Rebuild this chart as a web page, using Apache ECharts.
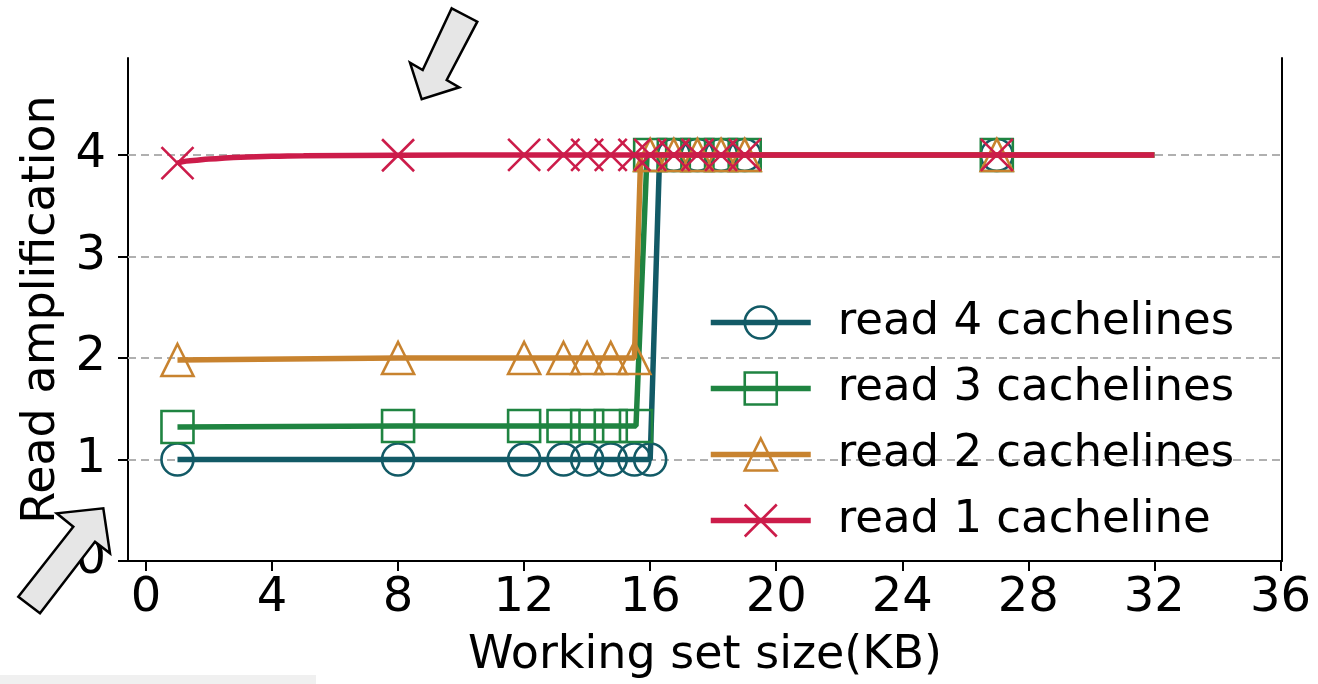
<!DOCTYPE html>
<html>
<head>
<meta charset="utf-8">
<script src="https://cdn.jsdelivr.net/npm/echarts@6/dist/echarts.min.js"></script>
<style>
html,body{margin:0;padding:0;background:#fff;}
#c{width:1318px;height:684px;}
</style>
</head>
<body>
<div id="c"></div>
<script>
// ---- data ----
const xTicks = [0, 4, 8, 12, 16, 20, 24, 28, 32, 36];
const yTicks = [0, 1, 2, 3, 4];
const gridLines = [1, 2, 3, 4];

const seriesNames = ['read 4 cachelines', 'read 3 cachelines', 'read 2 cachelines', 'read 1 cacheline'];

// read 4 cachelines
const r4x = [1, 8, 12, 13.25, 14, 14.75, 15.5, 16, 16.3, 16.75, 17.5, 18.25, 19, 27, 32];
const r4y = [1, 1, 1, 1, 1, 1, 1, 1, 4, 4, 4, 4, 4, 4, 4];
const r4m = [1, 1, 1, 1, 1, 1, 1, 1, 0, 1, 1, 1, 1, 1, 0];
// read 3 cachelines
const r3x = [1, 8, 12, 13.25, 14, 14.75, 15.55, 15.9, 16, 16.75, 17.5, 18.25, 19, 27, 32];
const r3y = [1.32, 1.33, 1.33, 1.33, 1.33, 1.33, 1.33, 4, 4, 4, 4, 4, 4, 4, 4];
const r3m = [1, 1, 1, 1, 1, 1, 1, 0, 1, 1, 1, 1, 1, 1, 0];
// read 2 cachelines
const r2x = [1, 8, 12, 13.25, 14, 14.75, 15.5, 15.7, 16, 16.75, 17.5, 18.25, 19, 27, 32];
const r2y = [1.98, 2, 2, 2, 2, 2, 2, 4, 4, 4, 4, 4, 4, 4, 4];
const r2m = [1, 1, 1, 1, 1, 1, 1, 0, 1, 1, 1, 1, 1, 1, 0];
// read 1 cacheline
const r1x = [1, 1.5, 2, 3, 4, 5, 8, 12, 13.25, 14, 14.75, 15.5, 16, 16.75, 17.5, 18.25, 19, 27, 32];
const r1y = [3.92, 3.945, 3.96, 3.978, 3.987, 3.992, 3.997, 4, 4, 4, 4, 4, 4, 4, 4, 4, 4, 4, 4];
const r1m = [1, 0, 0, 0, 0, 0, 1, 1, 1, 1, 1, 1, 1, 1, 1, 1, 1, 1, 0];

// ---- style ----
const FONT = 'DejaVu Sans';
const colors = ['#125a66', '#1f8441', '#c8832f', '#cc1c4a'];
const symbols = ['circle', 'rect', 'triangle', 'path://M0,0L10,10M10,0L0,10'];

function build(xs, ys, ms) {
  return xs.map((x, i) => ms[i] ? [x, ys[i]] : { value: [x, ys[i]], symbol: 'none' });
}
const allData = [[r4x, r4y, r4m], [r3x, r3y, r3m], [r2x, r2y, r2m], [r1x, r1y, r1m]];

const series = allData.map((d, k) => ({
  name: seriesNames[k],
  type: 'line',
  data: build(d[0], d[1], d[2]),
  symbol: symbols[k],
  symbolSize: 32,
  smooth: k === 3 ? 0.4 : false,
  smoothMonotone: 'x',
  showAllSymbol: true,
  animation: false,
  lineStyle: { color: colors[k], width: 5.5 },
  itemStyle: { color: 'rgba(255,255,255,0)', borderColor: colors[k], borderWidth: 2.6 },
  emphasis: { disabled: true },
  z: 2 + k
}));

// dashed grid lines as markLine on first series
series[0].markLine = {
  silent: true,
  symbol: 'none',
  label: { show: false },
  lineStyle: { color: '#b0b0b0', type: [8, 5], width: 1.8 },
  data: gridLines.map(v => ({ yAxis: v })),
  z: 1
};

const option = {
  animation: false,
  backgroundColor: '#ffffff',
  grid: { left: 128, right: 36, top: 58, bottom: 123, containLabel: false },
  xAxis: {
    type: 'value',
    min: -0.57, max: 36.05,
    name: 'Working set size(KB)',
    nameLocation: 'middle',
    nameGap: 72,
    nameTextStyle: { fontFamily: FONT, fontSize: 46, color: '#000' },
    axisLine: { show: true, onZero: false, lineStyle: { color: '#000', width: 2 } },
    axisTick: { show: true, length: 10, lineStyle: { color: '#000', width: 2 }, customValues: xTicks },
    axisLabel: { customValues: xTicks, fontFamily: FONT, fontSize: 48, color: '#000', margin: 14 },
    splitLine: { show: false }
  },
  yAxis: [{
    type: 'value',
    min: 0, max: 4.955,
    name: 'Read amplification',
    nameLocation: 'middle',
    nameGap: 50,
    nameTextStyle: { fontFamily: FONT, fontSize: 46, color: '#000' },
    axisLine: { show: true, onZero: false, lineStyle: { color: '#000', width: 2 } },
    axisTick: { show: true, length: 10, lineStyle: { color: '#000', width: 2 }, customValues: yTicks },
    axisLabel: { customValues: yTicks, fontFamily: FONT, fontSize: 48, color: '#000', margin: 22 },
    splitLine: { show: false }
  }, {
    type: 'value',
    min: 0, max: 4.955,
    position: 'right',
    axisLine: { show: true, onZero: false, lineStyle: { color: '#000', width: 2 } },
    axisTick: { show: false },
    axisLabel: { show: false },
    splitLine: { show: false }
  }],
  legend: {
    data: seriesNames,
    orient: 'vertical',
    left: 703,
    top: 295,
    itemWidth: 100,
    itemHeight: 40,
    itemGap: 21,
    lineStyle: { width: 5.5 },
    itemStyle: { borderWidth: 2.6 },
    textStyle: { fontFamily: FONT, fontSize: 45, color: '#000', lineHeight: 45, padding: [0, 0, 0, 22] },
    selectedMode: false
  },
  graphic: [
    { type: 'rect', shape: { x: 0, y: 675, width: 316, height: 9 }, style: { fill: '#f0f0f0' }, z: 0 },
    { type: 'polygon', z: 100,
      shape: { points: [[451.7, 8.3], [477.3, 21.7], [446.7, 80], [459.3, 87.3], [421.7, 99.3], [410, 62.7], [422.7, 70]] },
      style: { fill: '#e6e6e6', stroke: '#000', lineWidth: 2.5 } },
    { type: 'polygon', z: 100,
      shape: { points: [[18.3, 596.7], [73.3, 526.7], [56.7, 513.3], [103.3, 508.3], [110, 553.3], [95, 541.7], [40, 613.3]] },
      style: { fill: '#e6e6e6', stroke: '#000', lineWidth: 2.5 } }
  ],
  series: series
};

const chart = echarts.init(document.getElementById('c'), null, { renderer: 'canvas' });
chart.setOption(option);
</script>
</body>
</html>
